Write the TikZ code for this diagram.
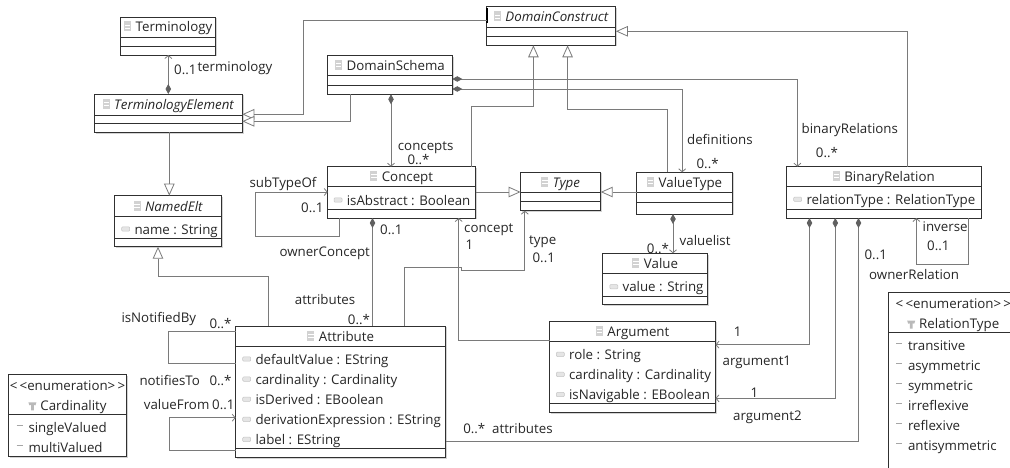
\documentclass[tikz,border=0pt]{standalone}
\usepackage{fontspec}
\setmainfont{Open Sans}
\usetikzlibrary{arrows.meta,calc,fit,shadows}
\definecolor{linegray}{HTML}{7A7A7A}
\definecolor{diagray}{HTML}{606060}
\definecolor{boxline}{HTML}{303030}
\definecolor{textgray}{HTML}{262626}
\tikzset{
  umlbox/.style={draw=boxline,line width=0.9pt,fill=white,inner sep=0pt,outer sep=0pt,
    drop shadow={shadow xshift=1.2pt,shadow yshift=-1.2pt,opacity=0.35,fill=gray}},
  cpt/.style={boxline,line width=0.9pt},
  txt/.style={font=\fontsize{13.3}{16}\selectfont,text=textgray,inner sep=0pt,text height=11pt,text depth=1pt},
  rowtext/.style={txt,anchor=west},
  lbl/.style={txt,anchor=west},
  conn/.style={linegray,line width=0.8pt},
  gen/.style={conn,-{Triangle[open,fill=white,length=12pt,width=10.5pt]}},
  ref/.style={conn,-{Straight Barb[length=3pt,width=7pt]}},
  comp/.style={conn,{Diamond[length=10pt,width=5.5pt,color=diagray,fill=diagray]}-{Straight Barb[length=3pt,width=7pt]}},
  compplain/.style={conn,{Diamond[length=10pt,width=5.5pt,color=diagray,fill=diagray]}-}
}
\newcommand{\clsicon}{\tikz[baseline=-0.5pt,x=1pt,y=1pt]{\fill[gray!35] (0,0) rectangle (7,10);
  \draw[white,line width=0.5pt] (0.8,3.3) -- (6.2,3.3) (0.8,6.7) -- (6.2,6.7);}}
\newcommand{\enumicon}{\tikz[baseline=0pt,x=1pt,y=1pt]{\fill[gray!55] (0,8) -- (8,8) -- (7,5) -- (5.4,5.4) -- (5.4,0) -- (2.6,0) -- (2.6,5.4) -- (1,5) -- cycle;}}
% box, top compartment with the name, two empty lines
\newcommand{\umlclass}[8]{
  \node[umlbox,fit={(#2,#3) (#4,#5)}] (#1) {};
  \draw[cpt] (#2,#6) -- (#4,#6);
  \draw[cpt] (#2,#7) -- (#4,#7);
  \node[txt] (#1-name) at ($(#2,#3)!0.5!(#4,#6)$) {\clsicon\hspace{4.5pt}#8};
}
\newcommand{\attrows}[4]{
  \foreach \t [count=\i] in {#4} {
    \pgfmathsetmacro\ypos{#3+20.1*(\i-1)}
    \draw[gray!45,fill=gray!20,line width=0.5pt,rounded corners=1pt] (#2,\ypos-2.2) rectangle (#2+8,\ypos+2.2);
    \node[rowtext] (#1-\i) at (#2+12.6,\ypos) {\t};
  }
}
\newcommand{\litrows}[4]{
  \foreach \t [count=\i] in {#4} {
    \pgfmathsetmacro\ypos{#3+20.1*(\i-1)}
    \draw[gray!70,line width=1pt] (#2,\ypos-2) -- (#2+6,\ypos-2);
    \node[rowtext] (#1-\i) at (#2+11.6,\ypos) {\t};
  }
}
\begin{document}
\begin{tikzpicture}[x=1pt,y=-1pt]
  \useasboundingbox (0,0) rectangle (1010,468);
  \clip (0,0) rectangle (1010,468);
  % classes
  \umlclass{terminology}{120.7}{17}{215.7}{55}{37}{46}{Terminology}
  \umlclass{termelement}{94.7}{94}{242.3}{132.5}{115}{123.5}{\textit{TerminologyElement}}
  \umlclass{domainschema}{327.7}{55.7}{452.3}{94.3}{75.3}{85.3}{DomainSchema}
  \umlclass{namedelt}{114.8}{195.7}{221.7}{246.7}{216.7}{238}{\textit{NamedElt}}
  \umlclass{concept}{327.7}{166.7}{475.7}{218}{186.3}{209.3}{Concept}
  \umlclass{domainconstruct}{486.8}{6.7}{615.9}{45.3}{27.3}{36.7}{\textit{DomainConstruct}}
  \umlclass{type}{520.6}{172.3}{600.7}{210.7}{192.3}{201.3}{\textit{Type}}
  \umlclass{valuetype}{636.9}{172.3}{732.5}{214}{192.3}{202}{ValueType}
  \umlclass{value}{602.8}{253.3}{707.7}{304.7}{273.3}{296}{Value}
  \umlclass{binaryrelation}{786.6}{166.7}{981}{218}{186.3}{209.3}{BinaryRelation}
  \umlclass{attribute}{235.7}{326}{445.7}{457.7}{346}{448.7}{Attribute}
  \umlclass{argument}{549.8}{321}{715.5}{412.7}{341}{403.3}{Argument}
  \attrows{namedelt}{121.7}{229}{name : String}
  \attrows{concept}{334}{200}{isAbstract : Boolean}
  \attrows{binaryrelation}{793.7}{199.3}{relationType : RelationType}
  \attrows{value}{609.8}{286.7}{value : String}
  \attrows{attribute}{242.7}{359}{defaultValue : EString,cardinality : Cardinality,isDerived : EBoolean,derivationExpression : EString,label : EString}
  \attrows{argument}{556.3}{354.3}{role : String,cardinality : Cardinality,isNavigable : EBoolean}
  % enumerations
  \node[umlbox,fit={(8.3,374.3) (126.7,456.7)}] (cardinality) {};
  \draw[cpt] (8.3,414) -- (126.7,414);
  \node[txt] (cardinality-stereo) at (67.5,385.7) {<\,<enumeration>\,>};
  \node[txt] (cardinality-name) at (67.5,405.3) {\enumicon\hspace{4pt}Cardinality};
  \litrows{cardinality}{16.7}{427}{singleValued,multiValued}
  \node[umlbox,fit={(888.2,292) (1030,490)}] (relationtype) {};
  \draw[cpt] (888.2,332) -- (1030,332);
  \node[rowtext] (relationtype-stereo) at (895.5,303.3) {<\,<enumeration>\,>};
  \node[rowtext] (relationtype-name) at (907,323.7) {\enumicon\hspace{4pt}RelationType};
  \litrows{relationtype}{896.2}{345.3}{transitive,asymmetric,symmetric,irreflexive,reflexive,antisymmetric}
  \draw[line width=2pt,black] (domainconstruct.west |- 0,8) -- (domainconstruct.west |- 0,23);
  % connectors
  \draw[comp] (termelement.north -| 168.3,0) -- (terminology.south -| 168.3,0);
  \draw[gen] (domainconstruct.west |- 0,20) -- (303.3,20) -- (303.3,114.3) -- (termelement.east |- 0,114.3);
  \draw[gen] (domainschema.south -| 350.7,0) -- (350.7,121.3) -- (termelement.east |- 0,121.3);
  \draw[gen] (termelement.south -| 169.3,0) -- (namedelt.north -| 169.3,0);
  \draw[comp] (domainschema.south -| 391,0) -- (concept.north -| 391,0);
  \draw[gen] (concept.north -| 471,0) -- (471,106) -- (533.4,106) -- (domainconstruct.south -| 533.4,0);
  \draw[gen] (valuetype.north -| 667.6,0) -- (667.6,109.3) -- (567.6,109.3) -- (domainconstruct.south -| 567.6,0);
  \draw[gen] (binaryrelation.north -| 907.6,0) -- (907.6,31.3) -- (domainconstruct.east |- 0,31.3);
  \draw[comp] (domainschema.east |- 0,89) -- (682.2,89) -- (valuetype.north -| 682.2,0);
  \draw[comp] (domainschema.east |- 0,79) -- (797.4,79) -- (binaryrelation.north -| 797.4,0);
  \draw[gen] (concept.east |- 0,192) -- (type.west |- 0,192);
  \draw[gen] (valuetype.west |- 0,192) -- (type.east |- 0,192);
  \draw[comp] (valuetype.south -| 673,0) -- (value.north -| 673,0);
  \draw[ref] (concept.south -| 339.3,0) -- (339.3,236) -- (255,236) -- (255,192) -- (concept.west |- 0,192);
  \draw[compplain] (concept.south -| 372.5,0) -- (attribute.north -| 372.5,0);
  \draw[gen] (attribute.north -| 268.3,0) -- (268.3,276.7) -- (158,276.7) -- (namedelt.south -| 158,0);
  \draw[ref] (attribute.north -| 404.7,0) -- (404.7,267) -- (461.8,267) -- (461.8,270.3) -- (524.8,270.3) -- (type.south -| 524.8,0);
  \draw[ref] (argument.west |- 0,340) -- (458.7,340) -- (concept.south -| 458.7,0);
  \draw[comp] (binaryrelation.south -| 809.5,0) -- (809.5,344.7) -- (argument.east |- 0,344.7);
  \draw[comp] (binaryrelation.south -| 835.3,0) -- (835.3,398.3) -- (argument.east |- 0,398.3);
  \draw[compplain] (binaryrelation.south -| 858.5,0) -- (858.5,441.3) -- (attribute.east |- 0,441.3);
  \draw[ref] (binaryrelation.south -| 968.5,0) -- (968.5,264.7) -- (916.4,264.7) -- (binaryrelation.south -| 916.4,0);
  \draw[conn] (attribute.west |- 0,331) -- (168.7,331) -- (168.7,363.3) -- (attribute.west |- 0,363.3);
  \draw[ref] (attribute.west |- 0,450.3) -- (169.3,450.3) -- (169.3,417.7) -- (attribute.west |- 0,417.7);
  % role names and multiplicities
  \foreach \x/\y/\t [count=\i] in {174/70/0..1,197.3/66.7/terminology,397.7/145.7/concepts,407.3/160/0..*,
    249.3/182.7/subTypeOf,301/207.3/0..1,380/229.3/0..1,464/228/concept,465.4/244.7/1,
    686.9/139.3/definitions,696.4/163.3/0..*,801.5/128.3/binaryRelations,815.7/152.3/0..*,
    529/239.3/type,532.4/257/0..1,679.5/240/valuelist,646.7/248/0..*,922.5/226/inverse,927/245/0..1,
    864.4/254.3/0..1,869/274/ownerRelation,279.3/251.7/ownerConcept,294.7/299.3/attributes,347.7/319/0..*,
    121.3/317.7/isNotifiedBy,209.3/323/0..*,139.3/380.3/notifiesTo,209.3/380.3/0..*,143.7/404.7/valueFrom,
    212/404.7/0..1,463.1/428.7/0..*,492/428.7/attributes,733.7/331.7/1,722.4/360.7/argument1,750.4/392.3/1,733/415/argument2}
    \node[lbl] (label\i) at (\x,\y) {\t};
\end{tikzpicture}
\end{document}
